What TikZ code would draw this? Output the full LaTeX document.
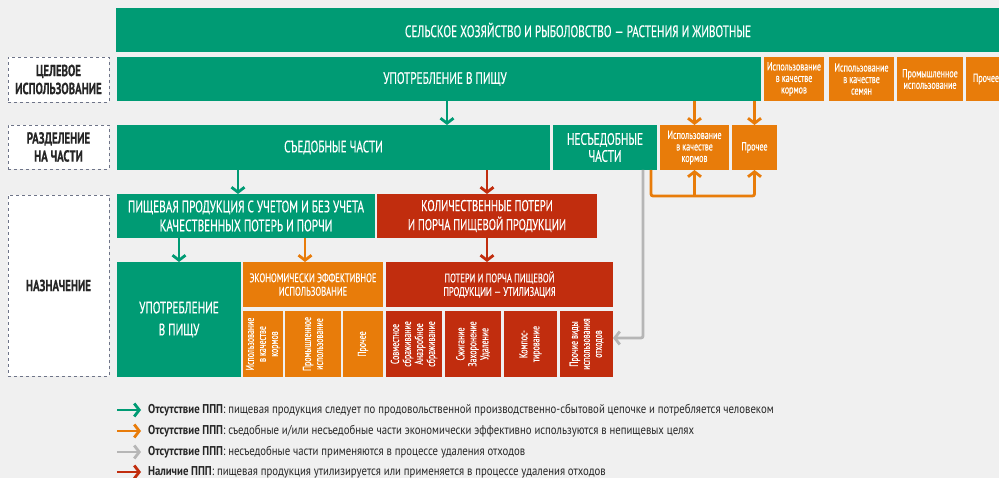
\documentclass[tikz,border=0pt]{standalone}
\usepackage{fontspec}
\setmainfont{PT Sans}[FakeStretch=0.68, FakeBold=0.4]
\newfontfamily\legendfont{PT Sans}[FakeStretch=0.84]
\usetikzlibrary{arrows.meta, positioning}
\definecolor{fgreen}{RGB}{0,155,116}
\definecolor{forange}{RGB}{232,124,10}
\definecolor{fred}{RGB}{193,45,14}
\definecolor{fgrey}{RGB}{182,182,182}
\definecolor{fback}{RGB}{240,240,240}
\definecolor{fdash}{RGB}{110,116,136}

\begin{document}
\begin{tikzpicture}[x=1pt, y=-1pt, inner sep=0pt, outer sep=0pt]
        % Define block styles
        \tikzstyle{box} = [rectangle, text=white, align=center]
        \tikzstyle{greennode} = [box, fill=fgreen, font=\fontsize{16.5}{19}\selectfont]
        \tikzstyle{orangenode} = [box, fill=forange, font=\fontsize{11.8}{11.5}\selectfont]
        \tikzstyle{rednode} = [box, fill=fred, font=\fontsize{15.5}{19}\selectfont]
        \tikzstyle{headnode} = [font=\fontsize{12.5}{13.5}\selectfont]
        \tikzstyle{subnode} = [text=white, align=center, rotate=90, font=\fontsize{11.5}{12}\selectfont]
        \tikzstyle{labelnode} = [rectangle, draw=fdash, dashed, fill=white, text=black!85, align=center, font=\bfseries\fontsize{16}{18}\selectfont]
        \tikzstyle{line} = [draw, line width=2.8pt, -{Straight Barb[length=5pt, width=13pt]}]
        \tikzstyle{greenline} = [line, fgreen]
        \tikzstyle{orangeline} = [line, forange]
        \tikzstyle{greyline} = [line, fgrey]
        \tikzstyle{redline} = [line, fred]
        \tikzstyle{legend} = [anchor=west, text=black!85, font=\legendfont\fontsize{12.8}{13}\selectfont]

        \fill[fback] (0,0) rectangle (999,478);
        \useasboundingbox (0,0) rectangle (999,478);

        % Define nodes
        \node [greennode, minimum width=924pt, minimum height=44pt] (agri) at (578,30) {СЕЛЬСКОЕ ХОЗЯЙСТВО И РЫБОЛОВСТВО~— РАСТЕНИЯ И ЖИВОТНЫЕ};
        \node [greennode, minimum width=644pt, minimum height=44pt] (food) at (439,79) {\hspace*{12pt}УПОТРЕБЛЕНИЕ В ПИЩУ};
        \node [orangenode, minimum width=60pt, minimum height=44pt] (feedA) at (794,79) {Использование\\в качестве\\кормов};
        \node [orangenode, minimum width=65pt, minimum height=44pt] (seed) at (861.5,79) {Использование\\в качестве\\семян};
        \node [orangenode, minimum width=66pt, minimum height=44pt] (indA) at (930,79) {Промышленное\\использование};
        \node [orangenode, minimum width=40pt, minimum height=44pt] (otherA) at (986,79) {Прочее};

        \node [greennode, minimum width=433pt, minimum height=45pt] (edible) at (333.5,147.5) {СЪЕДОБНЫЕ ЧАСТИ};
        \node [greennode, font=\fontsize{16.5}{17}\selectfont, minimum width=104pt, minimum height=45pt] (inedible) at (605,147.5) {НЕСЪЕДОБНЫЕ\\ЧАСТИ};
        \node [orangenode, minimum width=69pt, minimum height=45pt] (feedB) at (694.5,147.5) {Использование\\в качестве\\кормов};
        \node [orangenode, minimum width=45pt, minimum height=45pt] (otherB) at (754.5,147.5) {Прочее};

        \node [greennode, minimum width=258pt, minimum height=44pt] (foodprod) at (246,216) {ПИЩЕВАЯ ПРОДУКЦИЯ С УЧЕТОМ И БЕЗ УЧЕТА\\КАЧЕСТВЕННЫХ ПОТЕРЬ И ПОРЧИ};
        \node [rednode, minimum width=220pt, minimum height=44pt] (loss) at (487,216) {КОЛИЧЕСТВЕННЫЕ ПОТЕРИ\\И ПОРЧА ПИЩЕВОЙ ПРОДУКЦИИ};

        \node [greennode, minimum width=124pt, minimum height=115pt] (eat) at (179,319.5) {\rule{0pt}{4pt}УПОТРЕБЛЕНИЕ\\[3pt]В ПИЩУ};
        \node [orangenode, headnode, minimum width=140pt, minimum height=45pt] (econ) at (313,284.5) {ЭКОНОМИЧЕСКИ ЭФФЕКТИВНОЕ\\ИСПОЛЬЗОВАНИЕ};
        \node [rednode, headnode, minimum width=227pt, minimum height=45pt] (waste) at (499.5,284.5) {ПОТЕРИ И ПОРЧА ПИЩЕВОЙ\\ПРОДУКЦИИ~— УТИЛИЗАЦИЯ};

        \node [orangenode, minimum width=40pt, minimum height=66pt] (feedC) at (263,344) {};
        \node [subnode] at (feedC) {Использование\\в качестве\\кормов};
        \node [orangenode, minimum width=56pt, minimum height=66pt] (indC) at (313,344) {};
        \node [subnode] at (indC) {Промышленное\\использование};
        \node [orangenode, minimum width=40pt, minimum height=66pt] (otherC) at (363,344) {};
        \node [subnode] at (otherC) {Прочее};
        \node [rednode, minimum width=56pt, minimum height=66pt] (digest) at (414,344) {};
        \node [subnode] at (digest) {Совместное\\сбраживание\\Анаэробное\\сбраживание};
        \node [rednode, minimum width=56pt, minimum height=66pt] (burn) at (473,344) {};
        \node [subnode] at (burn) {Сжигание\\Захоронение\\Удаление};
        \node [rednode, minimum width=53pt, minimum height=66pt] (compost) at (530.5,344) {};
        \node [subnode] at (compost) {Компос-\\тирование};
        \node [rednode, minimum width=53pt, minimum height=66pt] (otherW) at (586.5,344) {};
        \node [subnode] at (otherW) {Прочие виды\\использования\\отходов};

        \node [labelnode, minimum width=101pt, minimum height=45pt] (purpose) at (58.5,79.5) {ЦЕЛЕВОЕ\\ИСПОЛЬЗОВАНИЕ};
        \node [labelnode, minimum width=101pt, minimum height=44pt] (split) at (58.5,147) {РАЗДЕЛЕНИЕ\\НА ЧАСТИ};
        \node [labelnode, minimum width=101pt, minimum height=181pt] (dest) at (58.5,285.5) {НАЗНАЧЕНИЕ};

        % Connect nodes with paths
        \path [greenline] ([xshift=8pt]food.south) -- ([xshift=8pt]food.south |- edible.north);
        \path [orangeline] (food.south -| feedB.north) -- (feedB.north);
        \path [orangeline] (food.south -| otherB.north) -- (otherB.north);
        \path [greyline, rounded corners=2pt] ([xshift=-14pt]inedible.south east) |- ([yshift=6pt]otherW.east);
        \path [orangeline, rounded corners=2pt] ([xshift=-6pt]inedible.south east) |- ([yshift=-26pt]otherB.south) -- (otherB.south);
        \path [orangeline] ([yshift=-26pt]feedB.south) -- (feedB.south);
        \path [greenline] ([xshift=-8pt]foodprod.north |- edible.south) -- ([xshift=-8pt]foodprod.north);
        \path [redline] (loss.north |- edible.south) -- (loss.north);
        \path [greenline] (eat.north |- foodprod.south) -- (eat.north);
        \path [orangeline] ([xshift=-8pt]econ.north |- foodprod.south) -- ([xshift=-8pt]econ.north);
        \path [redline] (loss.south) -- (loss.south |- waste.north);

        % Legend
        \node [legend] (legA) at (148,410) {\textbf{Отсутствие ППП}: пищевая продукция следует по продовольственной производственно-сбытовой цепочке и потребляется человеком};
        \node [legend] (legB) at (148,431) {\textbf{Отсутствие ППП}: съедобные и/или несъедобные части экономически эффективно используются в непищевых целях};
        \node [legend] (legC) at (148,452) {\textbf{Отсутствие ППП}: несъедобные части применяются в процессе удаления отходов};
        \node [legend] (legD) at (148,472) {\textbf{Наличие ППП}: пищевая продукция утилизируется или применяется в процессе удаления отходов};
        \path [greenline] ([xshift=-31pt]legA.west) -- ([xshift=-7pt]legA.west);
        \path [orangeline] ([xshift=-31pt]legB.west) -- ([xshift=-7pt]legB.west);
        \path [greyline] ([xshift=-31pt]legC.west) -- ([xshift=-7pt]legC.west);
        \path [redline] ([xshift=-31pt]legD.west) -- ([xshift=-7pt]legD.west);

    \end{tikzpicture}
\end{document}
